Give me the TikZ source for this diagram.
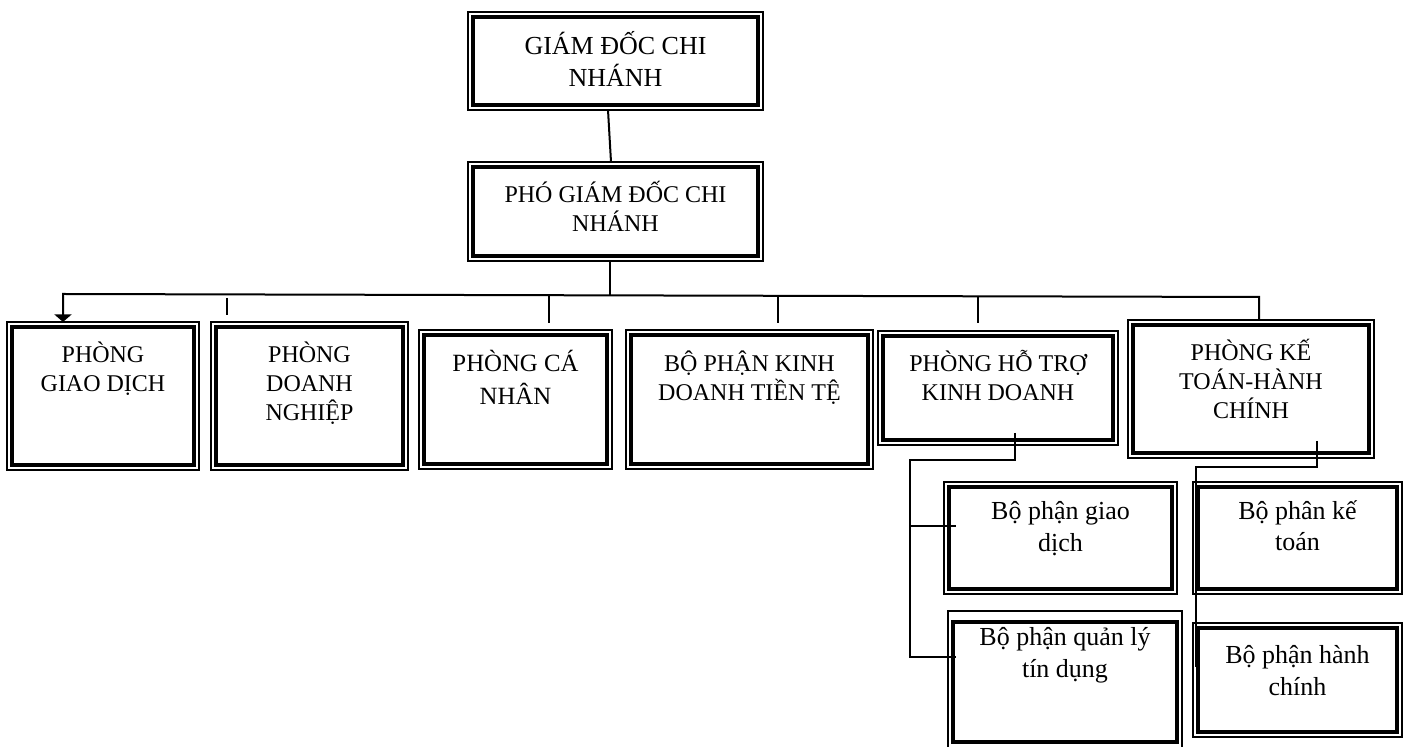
\documentclass[tikz,border=0pt]{standalone}
\usepackage{fontspec}
\setmainfont{Liberation Serif}
\usetikzlibrary{positioning,calc,arrows.meta}

\begin{document}
\begin{tikzpicture}[x=0.5pt,y=-0.5pt,
      box/.style={draw,line width=1pt,inner sep=0pt,outer sep=0pt,anchor=north west},
      sz/.style 2 args={minimum width=#1*0.5pt,minimum height=#2*0.5pt},
      innerline/.style={line width=1.6pt},
      txt/.style={anchor=north,align=center,inner sep=0pt,
         font=\fontsize{12}{14.5}\selectfont,execute at begin node=\strut},
      txtb/.style={txt,font=\fontsize{13}{15.8}\selectfont},
      con/.style={line width=1pt}]
   \useasboundingbox (0,0) rectangle (1408,747);

   % ban giam doc
   \node[box,sz={295}{98}]  (gd)  at (468,12)  {};
   \node[box,sz={295}{99}]  (pgd) at (468,162) {};

   % cac phong
   \node[box,sz={192}{148}] (pgdich) at (7,322)    {};
   \node[box,sz={197}{148}] (pdn)    at (211,322)  {};
   \node[box,sz={193}{139}] (pcn)    at (419,330)  {};
   \node[box,sz={247}{139}] (bpkd)   at (626,330)  {};
   \node[box,sz={240}{114}] (phtkd)  at (878,331)  {};
   \node[box,sz={246}{138}] (pkthc)  at (1128,320) {};

   % cac bo phan
   \node[box,sz={233}{112}] (bpgd) at (944,482)  {};
   \node[box,line width=0.6pt,sz={234}{145}] (bpql) at (948,611) {};
   \node[box,sz={209}{112}] (bpkt) at (1193,482) {};
   \node[box,sz={209}{114}] (bphc) at (1193,623) {};

   % inner border line
   \foreach \n in {gd,pgd,pgdich,pdn,pcn,bpkd,phtkd,pkthc,bpgd,bpkt,bphc}
      \draw[innerline] ($(\n.north west)+(5,5)$) rectangle ($(\n.south east)+(-5,-5)$);
   \draw[innerline] ($(bpql.north west)+(5,11)$) rectangle ($(bpql.north east)+(-5,131)$);

   % texts
   \node[txtb,below=9.5pt of gd.north]      (gd-t)     {GIÁM ĐỐC CHI\\NHÁNH};
   \node[txt,below=9.35pt of pgd.north]     (pgd-t)    {PHÓ GIÁM ĐỐC CHI\\NHÁNH};
   \node[txt,below=9.85pt of pgdich.north]  (pgdich-t) {PHÒNG\\GIAO DỊCH};
   \node[txt,below=9.85pt of pdn.north]     (pdn-t)    {PHÒNG\\DOANH\\NGHIỆP};
   \node[txt,font=\fontsize{12.4}{16.5}\selectfont,
         below=9.95pt of pcn.north]         (pcn-t)    {PHÒNG CÁ\\NHÂN};
   \node[txt,below=10.35pt of bpkd.north]   (bpkd-t)   {BỘ PHẬN KINH\\DOANH TIỀN TỆ};
   \node[txt,below=9.35pt of phtkd.north]   (phtkd-t)  {PHÒNG HỖ TRỢ\\KINH DOANH};
   \node[txt,below=9.35pt of pkthc.north]   (pkthc-t)  {PHÒNG KẾ\\TOÁN-HÀNH\\CHÍNH};
   \node[txtb,below=9.5pt of bpgd.north]    (bpgd-t)   {Bộ phận giao\\dịch};
   \node[txtb,below=8pt of bpql.north]      (bpql-t)   {Bộ phận quản lý\\tín dụng};
   \node[txtb,below=9pt of bpkt.north]      (bpkt-t)   {Bộ phân kế\\toán};
   \node[txtb,below=11pt of bphc.north]     (bphc-t)   {Bộ phận hành\\chính};

   % giam doc -> pho giam doc
   \draw[con] ($(gd.south)+(-7.5,0)$) -- ($(pgd.north)+(-4.5,0)$);

   % bus line
   \coordinate (busL) at (63,294);
   \coordinate (busR) at (1259,297);
   \coordinate (j0)   at (610,295);
   \draw[con] (j0 |- pgd.south) -- (j0);
   \draw[con,-{Triangle[width=8.5pt,length=3.8pt]}]
      (pkthc.north -| busR) -- (busR) -- (busL) -- (busL |- pgdich.north);

   % short ticks
   \coordinate (tk0) at (227,298);
   \draw[con] (tk0) -- ++(0,17);
   \foreach \x [count=\i] in {549,778,978} {
      \coordinate (tk\i) at (\x,296);
      \draw[con] (tk\i) -- ++(0,27);
   }

   % ho tro kinh doanh -> bo phan
   \coordinate (hk) at (910,460);
   \coordinate (g1) at ($(bpgd.north west)+(12,44)$);
   \coordinate (q1) at ($(bpql.north west)+(8,46)$);
   \draw[con] ($(phtkd.south)+(17,-12)$) |- (hk) |- (q1);
   \draw[con] (hk |- g1) -- (g1);

   % ke toan hanh chinh -> bo phan
   \coordinate (kk)   at (1196,467);
   \coordinate (kend) at (1196,667);
   \draw[con] ($(pkthc.south)+(66,-17)$) |- (kk) -- (kend);
\end{tikzpicture}
\end{document}
